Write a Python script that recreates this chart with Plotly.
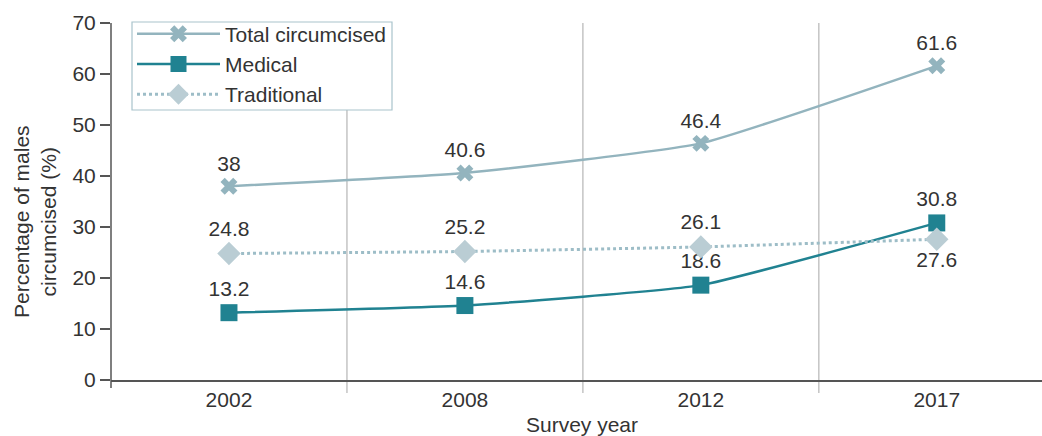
import plotly.graph_objects as go

years = ["2002", "2008", "2012", "2017"]
total = [38, 40.6, 46.4, 61.6]
medical = [13.2, 14.6, 18.6, 30.8]
traditional = [24.8, 25.2, 26.1, 27.6]
trad_label_pos = ["top center", "top center", "top center", "bottom center"]

x_idx = list(range(len(years)))

C_TOTAL = "#93b4be"
C_MED = "#208291"
C_TRAD_M = "#bacdd4"
C_TRAD_L = "#9dbdc7"
TXT = "#333333"
AX = "#555555"
FONT = "Liberation Sans, Arial, sans-serif"
FS = 21

# plot-area geometry (pixels)
L, T, BOT = 111, 23, 380
PH = BOT - T
PW = 1042 - L

fig = go.Figure()

fig.add_trace(go.Scatter(
    x=x_idx, y=total, name="Total circumcised", mode="lines+markers+text",
    line=dict(color=C_TOTAL, width=2.5, shape="spline", smoothing=0.4),
    marker=dict(symbol="x", size=15, color=C_TOTAL),
    text=[f"{v:g}" for v in total], textposition="top center",
    textfont=dict(size=FS, color=TXT), cliponaxis=False,
))
fig.add_trace(go.Scatter(
    x=x_idx, y=medical, name="Medical", mode="lines+markers+text",
    line=dict(color=C_MED, width=2.5, shape="spline", smoothing=0.4),
    marker=dict(symbol="square", size=17, color=C_MED),
    text=[f"{v:g}" for v in medical], textposition="top center",
    textfont=dict(size=FS, color=TXT), cliponaxis=False,
))
fig.add_trace(go.Scatter(
    x=x_idx, y=traditional, name="Traditional", mode="lines+markers+text",
    line=dict(color=C_TRAD_L, width=3, dash="dot", shape="spline", smoothing=0.4),
    marker=dict(symbol="diamond", size=18, color=C_TRAD_M),
    text=[f"{v:g}" for v in traditional], textposition=trad_label_pos,
    textfont=dict(size=FS, color=TXT), cliponaxis=False,
))

# category separator lines (extend a little below the x axis)
for b in [0.5, 1.5, 2.5]:
    fig.add_shape(type="line", xref="x", yref="paper", x0=b, x1=b,
                  y0=-(393 - BOT) / PH, y1=1,
                  line=dict(color="#c4c4c4", width=1.5), layer="below")
# y axis line (extends slightly below zero)
fig.add_shape(type="line", xref="paper", yref="paper", x0=0, x1=0,
              y0=-(388 - BOT) / PH, y1=1, line=dict(color=AX, width=1.5))
# legend frame
fig.add_shape(type="rect", xref="paper", yref="paper",
              x0=(132 - L) / PW, x1=(392 - L) / PW,
              y0=(BOT - 110) / PH, y1=(BOT - 22) / PH,
              line=dict(color="#a9c4cc", width=1.2), fillcolor="white", layer="above")

fig.update_layout(
    width=1042, height=436,
    margin=dict(l=L, r=0, t=T, b=436 - BOT, autoexpand=False),
    paper_bgcolor="white", plot_bgcolor="white",
    font=dict(family=FONT, size=FS, color=TXT),
    showlegend=True,
    legend=dict(
        x=(132 - L) / PW, y=(BOT - 13.5) / PH, xanchor="left", yanchor="top",
        bgcolor="rgba(0,0,0,0)", borderwidth=0,
        font=dict(size=FS, color=TXT), itemwidth=83,
    ),
    xaxis=dict(
        range=[-0.5, 3.446], tickmode="array", tickvals=x_idx, ticktext=years,
        showgrid=False, zeroline=False, showline=True, linecolor=AX, linewidth=1.5,
        ticks="", ticklabelstandoff=0,
        tickfont=dict(size=FS, color=TXT), automargin=False,
    ),
    yaxis=dict(
        range=[0, 70], tickmode="array", tickvals=list(range(0, 71, 10)),
        showgrid=False, zeroline=False, showline=False,
        ticks="outside", ticklen=10, tickcolor=AX, tickwidth=1.5,
        tickfont=dict(size=FS, color=TXT), automargin=False,
    ),
    annotations=[
        dict(text="Percentage of males<br>circumcised (%)", textangle=-90,
             xref="paper", yref="paper", x=(35 - L) / PW, y=(BOT - 222) / PH,
             xanchor="center", yanchor="middle", showarrow=False,
             font=dict(size=FS, color=TXT)),
        dict(text="Survey year", xref="paper", yref="paper",
             x=(582 - L) / PW, y=(BOT - 424) / PH,
             xanchor="center", yanchor="middle", showarrow=False,
             font=dict(size=FS, color=TXT)),
    ],
)

fig.write_html("out.html", config={"displayModeBar": False},
               post_script="document.body.style.margin='0px';document.body.style.overflow='hidden';")
